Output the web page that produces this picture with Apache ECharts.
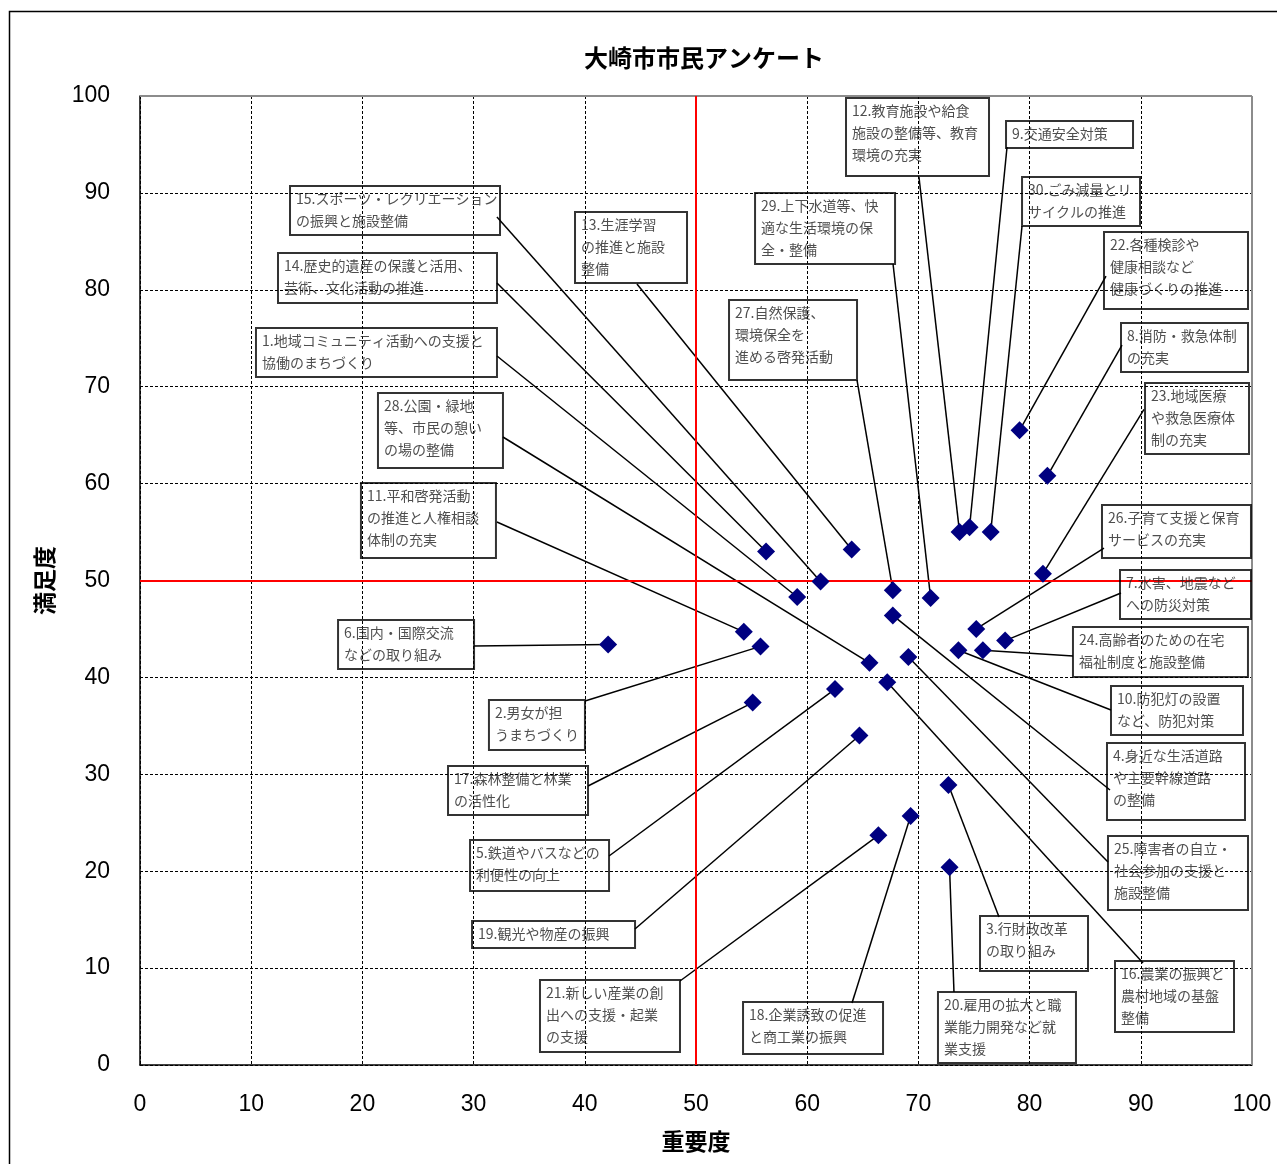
<!DOCTYPE html>
<html>
<head>
<meta charset="utf-8">
<title>大崎市市民アンケート</title>
<script src="https://cdn.jsdelivr.net/npm/echarts@6/dist/echarts.min.js"></script>
<style>
  html, body { margin: 0; padding: 0; background: #fff; }
  #main { width: 1277px; height: 1164px; }
</style>
</head>
<body>
<div id="main"></div>
<script>
// 施策項目（番号順）
const itemNames = [
  '1.地域コミュニティ活動への支援と\n協働のまちづくり',
  '2.男女が担\nうまちづくり',
  '3.行財政改革\nの取り組み',
  '4.身近な生活道路\nや主要幹線道路\nの整備',
  '5.鉄道やバスなどの\n利便性の向上',
  '6.国内・国際交流\nなどの取り組み',
  '7.水害、地震など\nへの防災対策',
  '8.消防・救急体制\nの充実',
  '9.交通安全対策',
  '10.防犯灯の設置\nなど、防犯対策',
  '11.平和啓発活動\nの推進と人権相談\n体制の充実',
  '12.教育施設や給食\n施設の整備等、教育\n環境の充実',
  '13.生涯学習\nの推進と施設\n整備',
  '14.歴史的遺産の保護と活用、\n芸術、文化活動の推進',
  '15.スポーツ・レクリエーション\nの振興と施設整備',
  '16.農業の振興と\n農村地域の基盤\n整備',
  '17.森林整備と林業\nの活性化',
  '18.企業誘致の促進\nと商工業の振興',
  '19.観光や物産の振興',
  '20.雇用の拡大と職\n業能力開発など就\n業支援',
  '21.新しい産業の創\n出への支援・起業\nの支援',
  '22.各種検診や\n健康相談など\n健康づくりの推進',
  '23.地域医療\nや救急医療体\n制の充実',
  '24.高齢者のための在宅\n福祉制度と施設整備',
  '25.障害者の自立・\n社会参加の支援と\n施設整備',
  '26.子育て支援と保育\nサービスの充実',
  '27.自然保護、\n環境保全を\n進める啓発活動',
  '28.公園・緑地\n等、市民の憩い\nの場の整備',
  '29.上下水道等、快\n適な生活環境の保\n全・整備',
  '30.ごみ減量とリ\nサイクルの推進'
];
// 重要度
const importance = [
  59.1, 55.8, 72.7, 67.7, 62.5, 42.1, 77.8, 81.6, 74.6, 73.6,
  54.3, 73.7, 64.0, 56.3, 61.2, 67.2, 55.1, 69.3, 64.7, 72.8,
  66.4, 79.1, 81.2, 75.8, 69.1, 75.2, 67.7, 65.6, 71.1, 76.5
];
// 満足度
const satisfaction = [
  48.3, 43.2, 28.9, 46.4, 38.8, 43.4, 43.8, 60.8, 55.5, 42.8,
  44.7, 55.0, 53.2, 53.0, 49.9, 39.5, 37.4, 25.7, 34.0, 20.4,
  23.7, 65.5, 50.7, 42.8, 42.1, 45.0, 49.0, 41.5, 48.2, 55.0
];
// 軸
const axisMin = 0;
const axisMax = 100;
const axisStep = 10;
const midLine = 50;

// ラベル枠の配置（左上の座標・引き出し線の起点はデータ座標、枠の大きさはpx）
// [枠左x, 枠上y, 幅, 高さ, 線起点x, 線起点y]
const labelLayouts = [
  [10.43, 76.06, 241, 46, 32.10, 73.17],
  [31.38, 37.67, 96, 50, 40.02, 37.56],
  [75.54, 15.38, 108, 55, 77.25, 15.27],
  [86.96, 33.23, 138, 77, 87.23, 28.38],
  [29.68, 23.22, 139, 51, 42.18, 21.57],
  [17.81, 45.92, 136, 49, 30.04, 43.24],
  [88.13, 51.08, 131, 48, 88.22, 48.71],
  [88.22, 76.57, 127, 48, 88.31, 74.30],
  [77.88, 97.42, 127, 25, 77.97, 94.74],
  [87.32, 39.11, 132, 47, 87.32, 36.64],
  [19.87, 60.06, 135, 75, 32.10, 56.04],
  [63.49, 99.79, 143, 78, 70.05, 91.64],
  [39.12, 88.03, 112, 70, 44.69, 80.60],
  [12.41, 83.80, 219, 50, 32.10, 80.70],
  [13.49, 90.71, 210, 49, 32.10, 87.51],
  [87.68, 10.73, 119, 71, 90.20, 10.53],
  [27.70, 30.86, 140, 48, 40.29, 28.79],
  [54.23, 6.50, 140, 52, 64.03, 6.40],
  [29.86, 14.86, 163, 23, 44.51, 14.04],
  [71.76, 7.53, 138, 65, 73.20, 7.53],
  [35.97, 8.77, 140, 72, 48.56, 8.67],
  [86.69, 85.96, 144, 77, 86.87, 81.42],
  [90.38, 70.38, 104, 71, 90.29, 67.65],
  [83.90, 45.20, 175, 50, 83.90, 42.21],
  [87.05, 23.63, 140, 74, 87.05, 20.95],
  [86.51, 57.79, 149, 53, 86.69, 53.35],
  [52.97, 78.95, 128, 80, 64.48, 70.69],
  [21.40, 69.35, 125, 75, 32.64, 64.81],
  [55.31, 89.99, 140, 70, 67.72, 82.66],
  [79.32, 91.64, 118, 48, 79.32, 86.58]
];

const jpFont = '"Noto Sans CJK JP", sans-serif';
const numFont = '"Liberation Sans", Arial, sans-serif';

const chart = echarts.init(document.getElementById('main'), null, { renderer: 'canvas' });

// 点データ
const pointData = importance.map((v, i) => [v, satisfaction[i]]);
// 引き出し線
const leaderData = labelLayouts.map((l, i) => ({
  coords: [[l[4], l[5]], [importance[i], satisfaction[i]]]
}));
// ラベル枠
const labelData = labelLayouts.map((l, i) => {
  const lines = itemNames[i].split('\n').length;
  return {
    value: [l[0], l[1]],
    label: {
      formatter: itemNames[i],
      width: l[2] - 12,
      height: Math.max(l[3] - 5, lines * 22)
    }
  };
});

const option = {
  animation: false,
  backgroundColor: '#fff',
  title: {
    text: '大崎市市民アンケート',
    left: 699,
    top: 41,
    textAlign: 'center',
    textStyle: { fontFamily: jpFont, fontSize: 24, fontWeight: 'bold', color: '#000' }
  },
  graphic: [
    {
      type: 'rect',
      left: 7, top: 9,
      shape: { width: 1320, height: 1220 },
      style: { fill: 'none', stroke: '#000', lineWidth: 1.5 },
      silent: true
    }
  ],
  grid: { left: 140, right: 25, top: 96, bottom: 99 },
  xAxis: {
    type: 'value',
    min: axisMin, max: axisMax, interval: axisStep,
    name: '重要度',
    nameLocation: 'middle',
    nameGap: 65,
    nameTextStyle: { fontFamily: jpFont, fontSize: 23, fontWeight: 'bold', color: '#000' },
    axisLine: { lineStyle: { color: '#000', width: 1.5 } },
    axisTick: { show: false },
    axisLabel: { margin: 28, fontSize: 23, color: '#000', fontFamily: numFont },
    splitLine: { show: true, lineStyle: { color: '#000', width: 1, type: [3, 2] } }
  },
  yAxis: {
    type: 'value',
    min: axisMin, max: axisMax, interval: axisStep,
    name: '満足度',
    nameLocation: 'middle',
    nameGap: 84,
    nameTextStyle: { fontFamily: jpFont, fontSize: 23, fontWeight: 'bold', color: '#000' },
    axisLine: { show: true, lineStyle: { color: '#000', width: 1.5 } },
    axisTick: { show: false },
    axisLabel: { margin: 30, fontSize: 23, color: '#000', fontFamily: numFont, padding: [6, 0, 0, 0] },
    splitLine: { show: true, lineStyle: { color: '#000', width: 1, type: [3, 2] } }
  },
  series: [
    {
      // 枠線（上・右）
      type: 'lines',
      coordinateSystem: 'cartesian2d',
      silent: true,
      z: 3,
      data: [],
      markLine: {
        silent: true,
        symbol: 'none',
        label: { show: false },
        lineStyle: { color: '#8c8c8c', width: 2, type: 'solid', opacity: 1 },
        data: [{ xAxis: axisMax }, { yAxis: axisMax }]
      }
    },
    {
      // 基準線（50）
      type: 'lines',
      coordinateSystem: 'cartesian2d',
      silent: true,
      z: 3,
      data: [],
      markLine: {
        silent: true,
        symbol: 'none',
        label: { show: false },
        lineStyle: { color: '#ff0000', width: 2, type: 'solid', opacity: 1 },
        data: [{ xAxis: midLine }, { yAxis: midLine }]
      }
    },
    {
      // 引き出し線
      type: 'lines',
      coordinateSystem: 'cartesian2d',
      silent: true,
      z: 4,
      lineStyle: { color: '#000', width: 1.5, opacity: 1, curveness: 0 },
      data: leaderData
    },
    {
      type: 'scatter',
      silent: true,
      z: 5,
      symbol: 'diamond',
      symbolSize: 18,
      itemStyle: { color: '#000080', opacity: 1 },
      data: pointData
    },
    {
      // ラベル枠
      type: 'scatter',
      silent: true,
      z: 6,
      symbolSize: 0,
      itemStyle: { color: 'transparent' },
      label: {
        show: true,
        position: [0, 0],
        align: 'left',
        verticalAlign: 'top',
        fontFamily: jpFont,
        fontSize: 14,
        lineHeight: 22,
        color: '#222',
        borderColor: '#000',
        borderWidth: 2,
        padding: [2, 6, 3, 6],
        overflow: 'none'
      },
      data: labelData
    }
  ]
};

chart.setOption(option);
</script>
</body>
</html>
